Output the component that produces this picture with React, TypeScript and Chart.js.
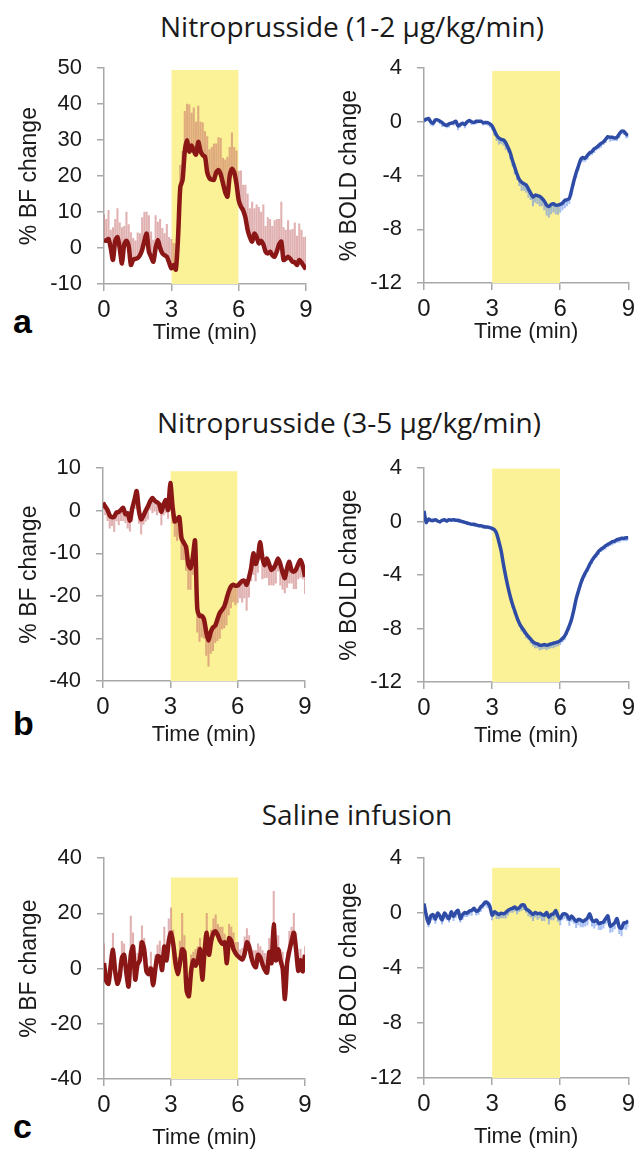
import React, { useEffect, useRef } from "react";
import { Chart, registerables } from "chart.js";

Chart.register(...registerables);

// ---------- data ----------
const TIME_MIN = [0,0.1,0.2,0.3,0.4,0.5,0.6,0.7,0.8,0.9,1,1.1,1.2,1.3,1.4,1.5,1.6,1.7,1.8,1.9,2,2.1,2.2,2.3,2.4,2.5,2.6,2.7,2.8,2.9,3,3.1,3.2,3.3,3.4,3.5,3.6,3.7,3.8,3.9,4,4.1,4.2,4.3,4.4,4.5,4.6,4.7,4.8,4.9,5,5.1,5.2,5.3,5.4,5.5,5.6,5.7,5.8,5.9,6,6.1,6.2,6.3,6.4,6.5,6.6,6.7,6.8,6.9,7,7.1,7.2,7.3,7.4,7.5,7.6,7.7,7.8,7.9,8,8.1,8.2,8.3,8.4,8.5,8.6,8.7,8.8,8.9,9];
const X_TICKS = [0, 3, 6, 9];
const INFUSION_WINDOW = [3, 6];

// a: Nitroprusside 1-2
const BF_A = [2.2,2.0,2.5,0,-3.3,2,3,0,-4.3,1,
  2,0.5,-4.7,-3.3,-3,-2.8,-2,-0.5,2,4,
  -1,-2.5,-3.8,0,2.2,0,-1.5,-2,-2.4,-4,
  -5.6,-4.7,-6,3,17,18.9,27,30,26.8,28.5,
  27,26,29.5,27,25.8,25.4,21,19.4,19,19,
  21,21.7,20.5,18,15.5,14.3,20,22,21,18,
  13.3,11.5,10.5,8.5,5,3,1.8,4,3,1.3,
  2,1,-1,-1.5,-1,-2,-2.4,-1,1,1.8,
  -3.3,-3,-2.4,-3,-3.8,-4,-4.7,-3.3,-4,-5,
  -5.9];
const BF_A_ERR = [7,6,8,5,9,6,8,7,10,5,
  8,6,9,6,5,7,6,9,8,6,
  10,7,6,9,5,8,7,6,9,7,
  8,6,7,5,6,8,11,10,13,9,
  12,9,10,8,9,7,10,8,9,10,
  8,9,10,7,9,11,8,10,7,9,
  8,10,7,9,10,8,11,7,9,10,
  8,11,7,10,9,8,10,9,7,11,
  9,8,10,8,9,11,8,10,9,8,
  9];
const BOLD_A = [0.1,0.2,0.25,0,-0.1,0.15,0.15,0.05,-0.05,-0.2,
  -0.25,-0.15,-0.1,-0.05,0.05,-0.3,-0.2,-0.1,-0.2,0,
  0.1,0,-0.05,0.05,0.05,0.05,-0.05,-0.05,-0.05,-0.15,
  -0.3,-0.65,-1,-1.2,-1.3,-1.35,-1.55,-1.9,-2.3,-2.9,
  -3.4,-3.9,-4.3,-4.5,-4.6,-4.7,-5.0,-5.3,-5.6,-5.45,
  -5.5,-5.55,-5.7,-5.9,-6.2,-6.3,-6.15,-6.1,-6.2,-6.2,
  -6.15,-6.05,-5.85,-5.8,-5.7,-5.1,-4.4,-3.8,-3.3,-2.8,
  -2.65,-2.7,-2.5,-2.3,-2.2,-2.0,-1.9,-1.75,-1.6,-1.5,
  -1.3,-1.1,-1.15,-1.15,-1.2,-1.15,-0.9,-0.7,-0.7,-0.9,
  -1.0];
const BOLD_A_ERR = [0.15,0.2,0.1,0.25,0.2,0.15,0.1,0.2,0.3,0.15,
  0.2,0.25,0.1,0.2,0.15,0.3,0.2,0.15,0.25,0.1,
  0.15,0.2,0.1,0.2,0.15,0.1,0.2,0.15,0.2,0.25,
  0.3,0.35,0.4,0.45,0.3,0.4,0.5,0.35,0.45,0.4,
  0.5,0.4,0.45,0.6,0.5,0.55,0.6,0.5,0.65,0.55,
  0.6,0.7,0.55,0.65,0.75,0.8,0.7,0.6,0.65,0.7,
  0.6,0.5,0.55,0.45,0.4,0.35,0.3,0.35,0.3,0.25,
  0.3,0.25,0.3,0.2,0.25,0.3,0.2,0.25,0.3,0.2,
  0.25,0.2,0.3,0.25,0.2,0.25,0.3,0.2,0.25,0.3,
  0.2];

// b: Nitroprusside 3-5
const BF_B = [1.9,1.0,0.2,-1.1,-1.5,-1.4,-0.4,-0.3,0.2,0.7,
  -0.8,-0.6,-2.3,0.5,2.5,4.6,0,-2,-1.2,0,
  1,2.2,3,2.4,2,1.6,-0.3,1.5,2.5,0.2,
  6.5,1,-2.5,-2,-1.5,-6.5,-7.5,-8.5,-12.5,-13.5,
  -11,-7,-23,-24.7,-24.7,-25.5,-28.5,-30.5,-28.5,-27.4,
  -27,-25.5,-24,-23.3,-22.5,-20.8,-19,-17.8,-17.4,-17.6,
  -17.6,-17,-16.5,-16.5,-17.4,-15.8,-13.5,-10,-12.5,-11,
  -7.4,-11,-12.8,-11.2,-12.5,-13.9,-13.5,-12.5,-11.2,-12.5,
  -14.5,-15.8,-13.5,-12,-14,-14.3,-13.8,-12.5,-11.6,-13,
  -15.5];
const BF_B_ERR = [1.5,2,2.5,3,2,3.5,2,3,2.5,3,
  2,3.5,2.5,3,2,4,3,3.5,2,2.5,
  3,2,3.5,2.5,3,2,3,2.5,3,2,
  3,4,3.5,5,4.5,5,4,5.5,6,5,
  4,5,5.5,6,5,4.5,5.5,6,5,5.5,
  4,5,6,4.5,5,6,5.5,5,4,4.5,
  4,3.5,5,4,6,4.5,3,5,4,3.5,
  4,5,3,4.5,5,3.5,4,4.5,3,5,
  4,3.5,4.5,5,3,4,4.5,3.5,4,3,
  4];
const BOLD_B = [0.8,-0.05,0.2,0.1,0.1,0.15,0.05,0,0.1,0.15,
  0.05,0.15,0.1,0.15,0.1,0.1,0.05,0,-0.05,-0.1,
  -0.15,-0.2,-0.2,-0.25,-0.3,-0.3,-0.35,-0.4,-0.4,-0.45,
  -0.5,-0.6,-0.9,-1.5,-2.2,-3.2,-4.1,-4.9,-5.6,-6.2,
  -6.7,-7.2,-7.6,-7.9,-8.15,-8.4,-8.6,-8.8,-9.0,-9.1,
  -9.15,-9.25,-9.25,-9.2,-9.25,-9.2,-9.15,-9.1,-9.05,-9.0,
  -8.9,-8.75,-8.55,-8.2,-7.8,-7.3,-6.6,-5.8,-5.2,-4.65,
  -4.2,-3.85,-3.55,-3.2,-2.9,-2.65,-2.45,-2.2,-2.05,-1.95,
  -1.8,-1.7,-1.6,-1.5,-1.45,-1.35,-1.3,-1.25,-1.25,-1.2,
  -1.2];
const BOLD_B_ERR = [0.1,0.15,0.1,0.1,0.15,0.1,0.1,0.15,0.1,0.1,
  0.1,0.15,0.1,0.1,0.1,0.15,0.1,0.1,0.1,0.15,
  0.1,0.1,0.15,0.1,0.1,0.1,0.15,0.1,0.1,0.1,
  0.15,0.15,0.2,0.2,0.2,0.25,0.2,0.25,0.2,0.25,
  0.25,0.2,0.25,0.3,0.25,0.3,0.25,0.3,0.3,0.35,
  0.3,0.35,0.3,0.3,0.35,0.3,0.3,0.35,0.3,0.3,
  0.3,0.25,0.3,0.25,0.3,0.25,0.2,0.25,0.2,0.25,
  0.2,0.25,0.2,0.2,0.25,0.2,0.2,0.25,0.2,0.2,
  0.25,0.2,0.2,0.25,0.2,0.2,0.25,0.2,0.2,0.25,
  0.2];

// c: Saline infusion
const BF_C = [2,-4.4,-5.5,1,6.8,-1,-5.5,-3,3.9,5,
  -1.5,-6.5,5,8,-4,1.5,3,9.5,7,-1,
  -2,0,-6,0,4.5,4,-0.5,8,3,10,
  13,9,2,-2,2,7,6,-8,-10,-1,
  3,1,3,7,-4,6,13,5,10,13,
  13.5,12,10,9,9.5,2,11,10,7,5.5,
  4.5,3.8,3.3,5.5,9.5,8,4,1.5,0.5,5,
  4,1.5,-0.5,-1.5,6,2,16,3,7,3,
  0,-11,2,6.5,10,13,7,-0.8,3,-1,
  5];
const BF_C_ERR = [7,3,5,4,6,3,4,5,6,4,
  3,5,14,5,8,4,7,6,4,5,
  3,6,4,5,4,6,5,7,6,8,
  9,5,4,6,8,13,6,5,4,6,
  3,6,5,4,5,6,7,6,4,5,
  6,4,5,6,3,7,5,5,6,4,
  5,3,4,6,5,4,3,5,6,4,
  4,5,6,3,5,4,12,6,5,4,
  6,5,4,7,5,7,6,5,4,5,
  3];
const BOLD_C = [0.7,-0.15,-0.75,-0.2,-0.1,-0.45,0,-0.2,-0.5,0,
  -0.2,-0.4,0.1,-0.25,0.05,0.2,-0.4,-0.1,0.05,0,
  0.15,0.2,0.35,0.15,0.2,0.45,0.6,0.8,0.75,0.5,
  -0.15,0.1,0,-0.1,0,-0.05,0.05,0.2,0.3,0.35,
  0.45,0.3,0.4,0.6,0.6,0.3,0.2,0.05,-0.1,0.05,
  -0.05,0,-0.1,-0.15,0.05,-0.3,-0.1,-0.05,0.2,-0.2,
  -0.4,-0.1,-0.05,-0.15,-0.45,-0.2,-0.4,-0.6,-0.45,-0.5,
  -0.6,-0.5,-0.35,-0.05,-0.5,-0.6,-0.5,-0.75,-0.7,-0.65,
  -0.4,-0.2,-0.95,-0.85,-0.7,-0.4,-1.0,-1.1,-0.7,-0.7,
  -0.55];
const BOLD_C_ERR = [0.3,0.35,0.25,0.3,0.4,0.3,0.35,0.25,0.3,0.4,
  0.3,0.25,0.35,0.3,0.4,0.3,0.25,0.35,0.3,0.25,
  0.3,0.35,0.25,0.3,0.3,0.35,0.25,0.3,0.35,0.3,
  0.35,0.3,0.4,0.3,0.35,0.3,0.4,0.35,0.3,0.35,
  0.3,0.35,0.3,0.4,0.35,0.3,0.4,0.35,0.45,0.35,
  0.4,0.35,0.45,0.4,0.35,0.5,0.4,0.45,0.5,0.4,
  0.45,0.4,0.35,0.4,0.45,0.4,0.35,0.45,0.4,0.5,
  0.4,0.45,0.5,0.4,0.45,0.5,0.4,0.45,0.5,0.45,
  0.4,0.5,0.45,0.5,0.45,0.4,0.5,0.55,0.45,0.5,
  0.45];

const ROW_TITLES = ["Nitroprusside (1-2 µg/kg/min)", "Nitroprusside (3-5 µg/kg/min)", "Saline infusion"];
const PANEL_LETTERS = ["a", "b", "c"];

// ---------- styles ----------
const RED = "#8a1616";
const RED_ERR = "rgba(195,100,100,0.5)";
const BLUE = "#2e4ca6";
const BLUE_ERR = "rgba(95,140,235,0.55)";
const SHADE = "#fbf196";
const AXIS = "#a8a8a8";
const TEXT = "#1a1a1a";
const SANS = "'Liberation Sans', Arial, sans-serif";

type PanelSpec = {
  left: number; top: number; width: number; height: number;
  plotLeft: number; plotTop: number; plotRight: number; plotBottom: number;
  values: number[]; errors: number[]; errDir: number;
  yMin: number; yMax: number; yStep: number; shadeTop: number;
  lineColor: string; errColor: string; lineWidth: number; yTitle: string;
};

function Panel(p: PanelSpec) {
  const ref = useRef<HTMLCanvasElement | null>(null);
  useEffect(() => {
    const canvas = ref.current;
    if (!canvas) return;
    const padTop = p.plotTop - p.top;
    const padRight = p.left + p.width - p.plotRight;
    const yW = p.plotLeft - p.left;
    const xH = p.top + p.height - p.plotBottom;
    const line = TIME_MIN.map((t, i) => ({ x: t, y: p.values[i] }));
    const errs = TIME_MIN.map((t, i) => ({
      x: t,
      y: p.errDir > 0 ? [p.values[i], p.values[i] + p.errors[i]] : [p.values[i] - p.errors[i], p.values[i]],
    }));
    const shade = INFUSION_WINDOW.map((t) => ({ x: t, y: p.shadeTop }));
    const chart = new Chart(canvas, {
      type: "line",
      data: {
        datasets: [
          { type: "line", data: line, borderColor: p.lineColor, borderWidth: p.lineWidth, pointRadius: 0, tension: 0.25, fill: false, order: 0 } as any,
          { type: "bar", data: errs, backgroundColor: p.errColor, barThickness: 1.4, borderWidth: 0, order: 1 } as any,
          { type: "line", data: shade, borderWidth: 0, borderColor: "rgba(0,0,0,0)", pointRadius: 0, fill: "start", backgroundColor: SHADE, order: 2 } as any,
        ],
      },
      options: {
        responsive: false,
        animation: false,
        devicePixelRatio: 1,
        layout: { padding: { top: padTop, right: padRight, left: 0, bottom: 0 } },
        plugins: { legend: { display: false }, tooltip: { enabled: false } },
        scales: {
          x: {
            type: "linear", min: 0, max: 9, offset: false,
            afterBuildTicks: (s: any) => { s.ticks = X_TICKS.map((v) => ({ value: v })); },
            ticks: { font: { family: SANS, size: 24 }, color: TEXT, padding: 5, maxRotation: 0, autoSkip: false },
            grid: { drawOnChartArea: false, drawTicks: true, tickLength: 7, color: AXIS, lineWidth: 1.5, offset: false },
            border: { color: AXIS, width: 1.5 },
            title: { display: true, text: "Time (min)", font: { family: SANS, size: 22 }, color: TEXT, padding: 0 },
            afterFit: (s: any) => { s.height = xH; },
          },
          y: {
            type: "linear", min: p.yMin, max: p.yMax,
            ticks: { stepSize: p.yStep, font: { family: SANS, size: 22 }, color: TEXT, padding: 15 },
            grid: { drawOnChartArea: false, drawTicks: true, tickLength: 7, color: AXIS, lineWidth: 1.5 },
            border: { color: AXIS, width: 1.5 },
            title: { display: true, text: p.yTitle, font: { family: SANS, size: 23 }, color: TEXT, padding: { top: 16, bottom: 0 } },
            afterFit: (s: any) => { s.width = yW; },
          },
        },
      } as any,
    });
    return () => chart.destroy();
  }, []);
  return (
    <canvas
      ref={ref}
      width={p.width}
      height={p.height}
      style={{ position: "absolute", left: p.left, top: p.top, width: p.width, height: p.height }}
    />
  );
}

export default function App() {
  const rows = [
    { canvasTop: 40, lp: [104, 68, 306, 284], rp: [424, 68, 633, 283], titleOff: 49,
      bf: BF_A, bfErr: BF_A_ERR, bfDir: 1, bfRange: [-10, 50, 10], bfShade: 49.5,
      bold: BOLD_A, boldErr: BOLD_A_ERR, boldShade: 3.8 },
    { canvasTop: 440, lp: [103, 466, 305, 681], rp: [424, 467, 632, 682], titleOff: 54,
      bf: BF_B, bfErr: BF_B_ERR, bfDir: -1, bfRange: [-40, 10, 10], bfShade: 9.3,
      bold: BOLD_B, boldErr: BOLD_B_ERR, boldShade: 4 },
    { canvasTop: 830, lp: [104, 854, 305, 1079], rp: [424, 856, 633, 1078], titleOff: 59,
      bf: BF_C, bfErr: BF_C_ERR, bfDir: 1, bfRange: [-40, 40, 20], bfShade: 33,
      bold: BOLD_C, boldErr: BOLD_C_ERR, boldShade: 3.3 },
  ];
  const titleTops = [12, 408, 800];
  const titleCenters = [352, 349, 357];
  const letterTops = [304, 706, 1109];

  return (
    <div style={{ position: "absolute", left: 0, top: 0, width: 640, height: 1152, background: "#fff", overflow: "hidden" }}>
      {ROW_TITLES.map((t, i) => (
        <div key={"t" + i} style={{ position: "absolute", top: titleTops[i], left: titleCenters[i], transform: "translateX(-50%)", whiteSpace: "nowrap", fontFamily: "'Open Sans', sans-serif", fontSize: 28, lineHeight: "28px", color: TEXT }}>{t}</div>
      ))}
      {PANEL_LETTERS.map((l, i) => (
        <div key={"l" + i} style={{ position: "absolute", top: letterTops[i], left: 13, fontFamily: SANS, fontWeight: 700, fontSize: 34, lineHeight: "34px", color: "#000" }}>{l}</div>
      ))}
      {rows.map((r, i) => {
        const bottomL = r.lp[3] + r.titleOff + 13;
        const bottomR = r.rp[3] + r.titleOff + 13;
        return (
          <React.Fragment key={"r" + i}>
            <Panel left={0} top={r.canvasTop} width={320} height={bottomL - r.canvasTop}
              plotLeft={r.lp[0]} plotTop={r.lp[1]} plotRight={r.lp[2]} plotBottom={r.lp[3]}
              values={r.bf} errors={r.bfErr} errDir={r.bfDir}
              yMin={r.bfRange[0]} yMax={r.bfRange[1]} yStep={r.bfRange[2]} shadeTop={r.bfShade}
              lineColor={RED} errColor={RED_ERR} lineWidth={4.5} yTitle="% BF change" />
            <Panel left={320} top={r.canvasTop} width={320} height={bottomR - r.canvasTop}
              plotLeft={r.rp[0]} plotTop={r.rp[1]} plotRight={r.rp[2]} plotBottom={r.rp[3]}
              values={r.bold} errors={r.boldErr} errDir={-1}
              yMin={-12} yMax={4} yStep={4} shadeTop={r.boldShade}
              lineColor={BLUE} errColor={BLUE_ERR} lineWidth={3.5} yTitle="% BOLD change" />
          </React.Fragment>
        );
      })}
    </div>
  );
}
